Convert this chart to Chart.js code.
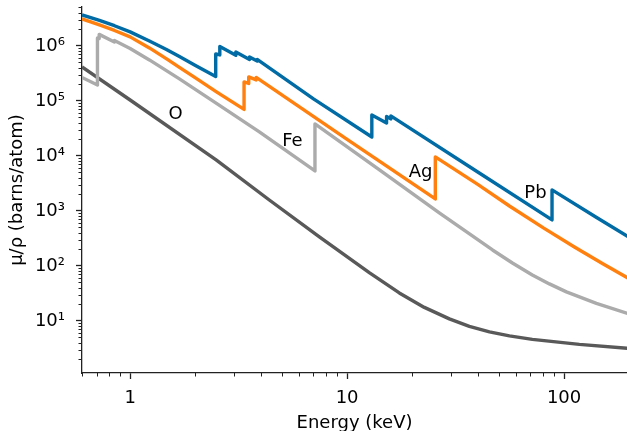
<!DOCTYPE html>
<html>
<head>
<meta charset="utf-8">
<script src="https://cdn.jsdelivr.net/npm/chart.js@4/dist/chart.umd.min.js"></script>
<style>
  html, body { margin: 0; padding: 0; background: #fff; }
  #chart { display: block; }
</style>
</head>
<body>
<canvas id="chart" width="627" height="431"></canvas>
<script>
// mass attenuation curves (energy in keV, barns/atom)
var pbEnergy = [0.6, 0.722, 0.847, 1.0, 1.227, 1.47, 1.687, 2.0, 2.48, 2.48, 2.59, 2.59, 3.07, 3.07, 3.55, 3.55, 3.85, 3.85, 7.0, 13.0, 13.0, 15.2, 15.2, 15.9, 15.9, 40, 88, 88, 140, 200];
var pbValue = [3.66e6, 2.91e6, 2.33e6, 1.80e6, 1.23e6, 8.64e5, 6.44e5, 4.42e5, 2.79e5, 7.16e5, 6.86e5, 9.8e5, 6.74e5, 7.78e5, 5.66e5, 6.31e5, 5.3e5, 5.69e5, 1.09e5, 2.21e4, 5.56e4, 3.98e4, 5.22e4, 4.71e4, 5.34e4, 5.1e3, 686, 2.41e3, 774, 328];

var agEnergy = [0.6, 0.722, 0.847, 1.0, 1.227, 1.485, 1.687, 2.0, 2.5, 3.35, 3.35, 3.52, 3.52, 3.81, 3.81, 10, 25.5, 25.5, 40, 56.0, 80.3, 111.6, 150.2, 200];
var agValue = [3.1e6, 2.41e6, 1.91e6, 1.46e6, 9.2e5, 5.69e5, 4.06e5, 2.62e5, 1.46e5, 7.0e4, 2.21e5, 2.08e5, 2.73e5, 2.41e5, 2.67e5, 2.0e4, 1.65e3, 9.6e3, 3.03e3, 1.23e3, 491, 221, 111, 58];

var feEnergy = [0.6, 0.707, 0.707, 0.72, 0.72, 0.846, 0.846, 1.0, 1.227, 1.687, 2.5, 3.94, 7.11, 7.11, 14.1, 26.6, 46.8, 57.8, 71.4, 85.6, 102.5, 140.9, 200];
var feValue = [2.67e5, 1.95e5, 1.4e6, 1.37e6, 1.62e6, 1.18e6, 1.26e6, 9.0e5, 5.56e5, 2.51e5, 9.0e4, 2.73e4, 5.34e3, 3.82e4, 5.56e3, 920, 195, 113, 68.5, 47.1, 33.7, 20.8, 13.4];

var oEnergy = [0.6, 1.0, 2.49, 4.38, 7.45, 8.9, 12.7, 17.4, 22.7, 29.6, 36.6, 45.3, 56.0, 71.4, 117.6, 200];
var oValue = [4.15e5, 1.04e5, 8.46e3, 1.58e3, 336, 204, 74.6, 32.3, 17.6, 10.9, 7.94, 6.31, 5.34, 4.61, 3.74, 3.16];

var elementNames = ["Pb", "Ag", "Fe", "O"];
var elementColors = ["#006BA4", "#FF800E", "#ABABAB", "#595959"];

// where the element names sit (keV, barns/atom)
var labelEnergy = [73.8, 21.8, 5.6, 1.62];
var labelValue = [2.1e3, 5.1e3, 1.87e4, 5.8e4];

var xTicks = [1, 10, 100];
var yTicks = [1e1, 1e2, 1e3, 1e4, 1e5, 1e6];

var sup = { "0": "\u2070", "1": "\u00B9", "2": "\u00B2", "3": "\u00B3", "4": "\u2074", "5": "\u2075", "6": "\u2076", "7": "\u2077", "8": "\u2078", "9": "\u2079" };

function toPoints(xs, ys) {
    var pts = [];
    for (var i = 0; i < xs.length; i++) pts.push({ x: xs[i], y: ys[i] });
    return pts;
}

var series = [pbEnergy, agEnergy, feEnergy, oEnergy];
var seriesVal = [pbValue, agValue, feValue, oValue];
var datasets = [];
for (var i = 0; i < series.length; i++) {
    datasets.push({
        label: elementNames[i],
        data: toPoints(series[i], seriesVal[i]),
        borderColor: elementColors[i],
        backgroundColor: elementColors[i],
        borderWidth: 3.4,
        borderJoinStyle: "round",
        pointRadius: 0,
        tension: 0,
        fill: false
    });
}

var axisColor = "#222222";
var tickFont = { family: "DejaVu Sans", size: 18 };

// minor log ticks + element names
var extras = {
    id: "extras",
    afterDraw: function (chart) {
        var ctx = chart.ctx;
        var xs = chart.scales.x, ys = chart.scales.y;
        var area = chart.chartArea;
        ctx.save();
        ctx.strokeStyle = axisColor;
        ctx.lineWidth = 1;
        for (var n = -1; n <= 2; n++) {
            for (var m = 2; m <= 9; m++) {
                var v = m * Math.pow(10, n);
                if (v < xs.min || v > xs.max) continue;
                var px = Math.round(xs.getPixelForValue(v)) + 0.5;
                ctx.beginPath();
                ctx.moveTo(px, area.bottom);
                ctx.lineTo(px, area.bottom + 3.5);
                ctx.stroke();
            }
        }
        for (var n2 = 0; n2 <= 6; n2++) {
            for (var m2 = 2; m2 <= 9; m2++) {
                var w = m2 * Math.pow(10, n2);
                if (w < ys.min || w > ys.max) continue;
                var py = Math.round(ys.getPixelForValue(w)) + 0.5;
                ctx.beginPath();
                ctx.moveTo(area.left, py);
                ctx.lineTo(area.left - 3.5, py);
                ctx.stroke();
            }
        }
        ctx.fillStyle = "#000";
        ctx.font = "18px 'DejaVu Sans'";
        ctx.textAlign = "center";
        ctx.textBaseline = "middle";
        for (var k = 0; k < elementNames.length; k++) {
            ctx.fillText(elementNames[k], xs.getPixelForValue(labelEnergy[k]), ys.getPixelForValue(labelValue[k]));
        }
        ctx.restore();
    }
};

var ctx = document.getElementById("chart");
var myChart = new Chart(ctx, {
    type: "line",
    data: { datasets: datasets },
    options: {
        responsive: false,
        animation: false,
        layout: { padding: { top: 7, right: 0, bottom: 0, left: 0 } },
        plugins: {
            legend: { display: false },
            tooltip: { enabled: false }
        },
        scales: {
            x: {
                type: "logarithmic",
                min: 0.6,
                max: 195,
                afterFit: function (scale) { scale.height = 58; scale.paddingLeft = 0; scale.paddingRight = 0; },
                afterBuildTicks: function (scale) {
                    scale.ticks = xTicks.map(function (v) { return { value: v, major: true }; });
                },
                grid: { display: true, drawOnChartArea: false, drawTicks: true, tickLength: 6, tickWidth: 1.3, tickColor: axisColor },
                border: { display: true, color: axisColor, width: 1.3 },
                ticks: {
                    autoSkip: false,
                    maxRotation: 0,
                    padding: 9,
                    color: "#000",
                    font: tickFont,
                    callback: function (v) { return String(v); }
                },
                title: {
                    display: true,
                    text: "Energy (keV)",
                    color: "#000",
                    font: tickFont,
                    padding: { top: 0, bottom: -3 }
                }
            },
            y: {
                type: "logarithmic",
                min: 1.13,
                max: 5.1e6,
                afterFit: function (scale) { scale.width = 82; scale.paddingTop = 0; scale.paddingBottom = 0; },
                afterBuildTicks: function (scale) {
                    scale.ticks = yTicks.map(function (v) { return { value: v, major: true }; });
                },
                grid: { display: true, drawOnChartArea: false, drawTicks: true, tickLength: 6, tickWidth: 1.3, tickColor: axisColor },
                border: { display: true, color: axisColor, width: 1.3 },
                ticks: {
                    autoSkip: false,
                    padding: 11,
                    color: "#000",
                    font: tickFont,
                    callback: function (v) {
                        var e = String(Math.round(Math.log10(v)));
                        return "10" + e.split("").map(function (c) { return sup[c]; }).join("");
                    }
                },
                title: {
                    display: true,
                    text: "\u03BC/\u03C1 (barns/atom)",
                    color: "#000",
                    font: tickFont,
                    padding: { top: 7, bottom: 0 }
                }
            }
        }
    },
    plugins: [extras]
});
</script>
</body>
</html>
